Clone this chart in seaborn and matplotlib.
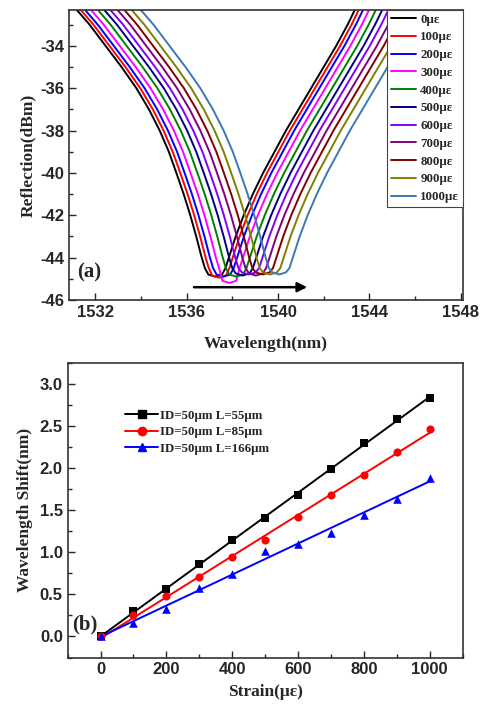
import matplotlib
matplotlib.use("Agg")
import matplotlib.pyplot as plt
import seaborn as sns
import pandas as pd
import numpy as np
from matplotlib.ticker import MultipleLocator

# --- dados (a): perfil do espectro de 0 με e deslocamento de cada curva ---
base_wl = [1530.95, 1531.75, 1532.45, 1533.15, 1533.8, 1534.35, 1534.82, 1535.22, 1535.55,
           1535.87, 1536.16, 1536.42, 1536.66, 1536.8, 1536.95, 1537.25, 1537.55, 1537.7,
           1537.85, 1538.15, 1538.5, 1538.9, 1539.35, 1539.85, 1540.35, 1540.9,
           1541.45, 1542.0, 1542.55, 1543.05, 1543.5]
base_db = [-32.0, -33.0, -34.0, -35.0, -36.0, -37.0, -38.0, -39.0, -40.0,
           -41.0, -42.0, -43.0, -44.0, -44.5, -44.8, -44.9, -44.8, -44.5,
           -44.0, -43.0, -42.0, -41.0, -40.0, -39.0, -38.0, -37.0,
           -36.0, -35.0, -34.0, -33.0, -32.0]
strain_labels = ["0με", "100με", "200με", "300με", "400με", "500με",
                 "600με", "700με", "800με", "900με", "1000με"]
shift_nm = [0, 0.17, 0.36, 0.62, 0.92, 1.2, 1.47, 1.78, 2.08, 2.4, 2.8]
dip_min = [-44.9, -44.95, -44.9, -45.2, -44.9, -44.85, -44.8, -44.85, -44.8, -44.8, -44.8]
curve_colors = ["#000000", "#FF0000", "#0000FF", "#FF00FF", "#008000", "#000080",
                "#8000FF", "#800080", "#800000", "#808000", "#3C78B4"]

# --- dados (b): deslocamento x deformação ---
strain = [0, 100, 200, 300, 400, 500, 600, 700, 800, 900, 1000]
shift_55 = [0, 0.30, 0.56, 0.86, 1.14, 1.41, 1.68, 1.99, 2.29, 2.58, 2.83]
shift_85 = [0, 0.25, 0.48, 0.70, 0.94, 1.14, 1.42, 1.68, 1.92, 2.19, 2.46]
shift_166 = [0, 0.16, 0.33, 0.58, 0.74, 1.02, 1.10, 1.23, 1.44, 1.63, 1.88]
series_labels = ["ID=50μm L=55μm", "ID=50μm L=85μm", "ID=50μm L=166μm"]

sns.set_style("ticks")
plt.rcParams["font.family"] = ["Liberation Sans", "DejaVu Sans"]
plt.rcParams["xtick.direction"] = "in"
plt.rcParams["ytick.direction"] = "in"
plt.rcParams["axes.unicode_minus"] = False

serif = ["Liberation Serif", "DejaVu Serif"]

# montando tabela longa para o seaborn (fundo do vale ajustado por curva)
rows = []
for lab, s, dmin in zip(strain_labels, shift_nm, dip_min):
    for w, d in zip(base_wl, base_db):
        if d == -44.9:
            d = dmin
        elif d == -44.8:
            d = dmin + 0.1
        rows.append({"wl": w + s, "db": d, "strain": lab})
spec = pd.DataFrame(rows)

fig = plt.figure(figsize=(4.81, 7.04), dpi=100)
ax1 = fig.add_axes([0.1435, 0.574, 0.819, 0.412])
ax2 = fig.add_axes([0.1407, 0.066, 0.821, 0.419])

# --- painel (a) ---
sns.lineplot(data=spec, x="wl", y="db", hue="strain", palette=curve_colors,
             estimator=None, sort=False, linewidth=1.4, ax=ax1)
ax1.set_xlim(1530.85, 1548.1)
ax1.set_ylim(-46, -32.3)
ax1.xaxis.set_major_locator(MultipleLocator(4))
ax1.xaxis.set_minor_locator(MultipleLocator(2))
ax1.yaxis.set_major_locator(MultipleLocator(2))
ax1.yaxis.set_minor_locator(MultipleLocator(1))
ax1.set_xlabel("Wavelength(nm)", family=serif, fontweight="bold", fontsize=12.5, labelpad=12)
ax1.set_ylabel("Reflection(dBm)", family=serif, fontweight="bold", fontsize=12.5, labelpad=3)
ax1.annotate("", xy=(1541.4, -45.4), xytext=(1536.2, -45.4),
             arrowprops=dict(arrowstyle="-|>", color="black", lw=1.8, mutation_scale=14))
ax1.text(1531.2, -44.95, "(a)", family=serif, fontweight="bold", fontsize=15)
leg1 = ax1.legend(loc="upper right", borderaxespad=0, fancybox=False, framealpha=1,
                  edgecolor="#444444", handlelength=1.95, handletextpad=0.3,
                  labelspacing=0.44, borderpad=0.3,
                  prop={"family": serif, "weight": "bold", "size": 9.3})
leg1.get_frame().set_linewidth(0.8)
for h in leg1.get_lines():
    h.set_linewidth(1.4)

# --- painel (b) ---
markers = ["s", "o", "^"]
colors_b = ["#000000", "#FF0000", "#0000FF"]
sizes = [30, 34, 38]
for ys, lab, mk, c, sz in zip([shift_55, shift_85, shift_166], series_labels, markers, colors_b, sizes):
    sns.regplot(x=strain, y=ys, ci=None, scatter=False, ax=ax2,
                line_kws={"color": c, "lw": 1.4})
    sns.scatterplot(x=strain, y=ys, marker=mk, color=c, s=sz, edgecolor=c,
                    linewidth=0, ax=ax2, zorder=3)
    ax2.plot([], [], color=c, marker=mk, markersize=6, lw=1.4, label=lab)

ax2.set_xlim(-100, 1100)
ax2.set_ylim(-0.25, 3.25)
ax2.xaxis.set_major_locator(MultipleLocator(200))
ax2.xaxis.set_minor_locator(MultipleLocator(100))
ax2.yaxis.set_major_locator(MultipleLocator(0.5))
ax2.yaxis.set_minor_locator(MultipleLocator(0.25))
ax2.set_xlabel("Strain(με)", family=serif, fontweight="bold", fontsize=12.5, labelpad=5)
ax2.set_ylabel("Wavelength Shift(nm)", family=serif, fontweight="bold", fontsize=12.5, labelpad=5)
ax2.text(-85, 0.08, "(b)", family=serif, fontweight="bold", fontsize=15)
ax2.legend(loc="upper left", bbox_to_anchor=(0.115, 0.88), frameon=False,
           handlelength=2.6, handletextpad=0.15, labelspacing=0.35,
           prop={"family": serif, "weight": "bold", "size": 9.3})

for ax in (ax1, ax2):
    for sp in ax.spines.values():
        sp.set_linewidth(1.2)
        sp.set_color("#333333")
    ax.tick_params(which="major", length=5, width=1)
    ax.tick_params(which="minor", length=3, width=1)
    for t in ax.get_xticklabels() + ax.get_yticklabels():
        t.set_fontweight("bold")
        t.set_fontsize(12)

fig.savefig("out.png", dpi=100)
